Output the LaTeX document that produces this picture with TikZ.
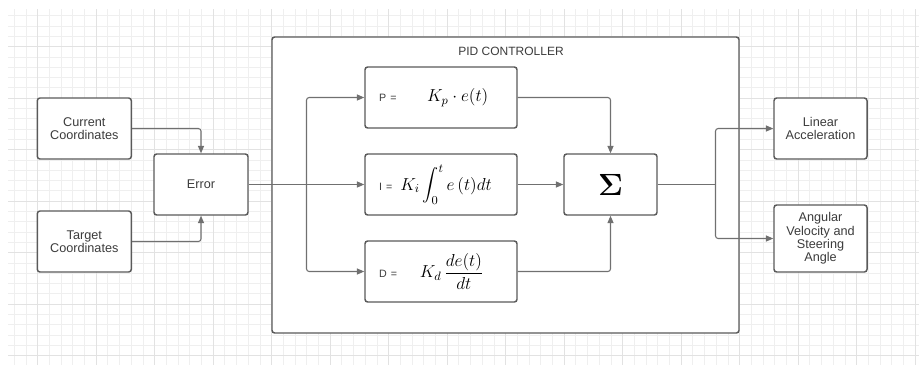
\RequirePackage{fix-cm}
\documentclass[tikz,border=0pt]{standalone}
\usepackage{amsmath}
\usepackage[no-math]{fontspec}
\setmainfont{Liberation Sans}
\usetikzlibrary{arrows.meta,positioning,calc}
\definecolor{gridminor}{HTML}{EFEFEF}
\definecolor{gridmajor}{HTML}{E2E2E2}
\definecolor{boxline}{HTML}{5A5A5A}
\definecolor{wireline}{HTML}{707070}
\definecolor{labtext}{HTML}{3C3C3C}
\newcommand{\termname}[1]{{\fontsize{8}{9}\selectfont\color{labtext}#1}}
\newcommand{\termmath}[1]{{\fontsize{13}{15}\selectfont$\displaystyle #1$}}

\begin{document}
\begin{tikzpicture}[
    x=0.75pt, y=-0.75pt,
    font=\fontsize{9.5}{10}\selectfont,
    box/.style={rectangle, draw=boxline, fill=white, line width=1.1pt, rounded corners=2pt, align=center, text=labtext, inner sep=2pt, minimum width=70.5pt, minimum height=45.75pt},
    termbox/.style={box, minimum width=114pt, text width=93pt, inner xsep=10.5pt, align=left, text=black},
    arr/.style={-{Triangle[length=5.5pt, width=4.5pt]}, draw=wireline, line width=0.8pt, rounded corners=2pt},
    wire/.style={draw=wireline, line width=0.8pt, rounded corners=2pt}
  ]
    \useasboundingbox (0,0) rectangle (919,365);
    \fill[white] (0,0) rectangle (919,365);
    \begin{scope}
      \clip (8,9) rectangle (919,365);
      \foreach \i in {0,...,78}
        \draw[gridminor, line width=0.7pt] ({2.6+11.7*\i},9) -- ({2.6+11.7*\i},365);
      \foreach \j in {0,...,35}
        \draw[gridminor, line width=0.7pt] (8,{5.5+10.3*\j}) -- (919,{5.5+10.3*\j});
      \foreach \i in {-1,...,15}
        \draw[gridmajor, line width=0.8pt] ({37.7+58.5*\i},9) -- ({37.7+58.5*\i},365);
      \foreach \j in {-1,...,6}
        \draw[gridmajor, line width=0.8pt] (8,{46.7+51.5*\j}) -- (919,{46.7+51.5*\j});
    \end{scope}
    \node[box, minimum width=350.25pt, minimum height=222pt] (pid) at (505.5,185) {};
    \node[text=labtext, font=\fontsize{9}{10}\selectfont] (pidlab) at (511,51) {PID CONTROLLER};
    \node[box] (cur) at (84.3,128.5) {Current\\Coordinates};
    \node[box] (tgt) at (84.3,241.5) {Target\\Coordinates};
    \node[box] (err) at (201,184.5) {Error};
    \node[termbox] (pterm) at (441,97.5) {\termname{P =}\hspace{23pt}\termmath{K_p\cdot e(t)}};
    \node[termbox] (iterm) at (441,184.5) {\termname{I =}\hspace{6pt}\termmath{K_i\int_0^t e\,(t)dt}};
    \node[termbox] (dterm) at (441,271.5) {\termname{D =}\hspace{17pt}\termmath{K_d\,\frac{de(t)}{dt}}};
    \node[box, minimum width=69.75pt, text=black] (sum) at (610.5,184.5) {\fontsize{23}{25}\selectfont$\mathbf{\Sigma}$};
    \node[box, minimum width=69.75pt] (lin) at (820.5,128.5) {Linear\\Acceleration};
    \node[box, minimum width=69.75pt, minimum height=50.25pt] (ang) at (820.5,238.5) {Angular\\Velocity and\\Steering\\Angle};
    \coordinate (fork) at ($(err.east)!0.5!(iterm.west)$);
    \coordinate (outfork) at ($(sum.east)!0.5!(lin.west |- sum.east)$);
    \draw[arr] (cur.east) -| (err.north);
    \draw[arr] (tgt.east) -| (err.south);
    \draw[arr] (err.east) -- (iterm.west);
    \draw[arr] (fork) |- (pterm.west);
    \draw[arr] (fork) |- (dterm.west);
    \draw[arr] (pterm.east) -| (sum.north);
    \draw[arr] (iterm.east) -- (sum.west);
    \draw[arr] (dterm.east) -| (sum.south);
    \draw[wire] (sum.east) -- (outfork);
    \draw[arr] (outfork) |- (lin.west);
    \draw[arr] (outfork) |- (ang.west);
\end{tikzpicture}
\end{document}
